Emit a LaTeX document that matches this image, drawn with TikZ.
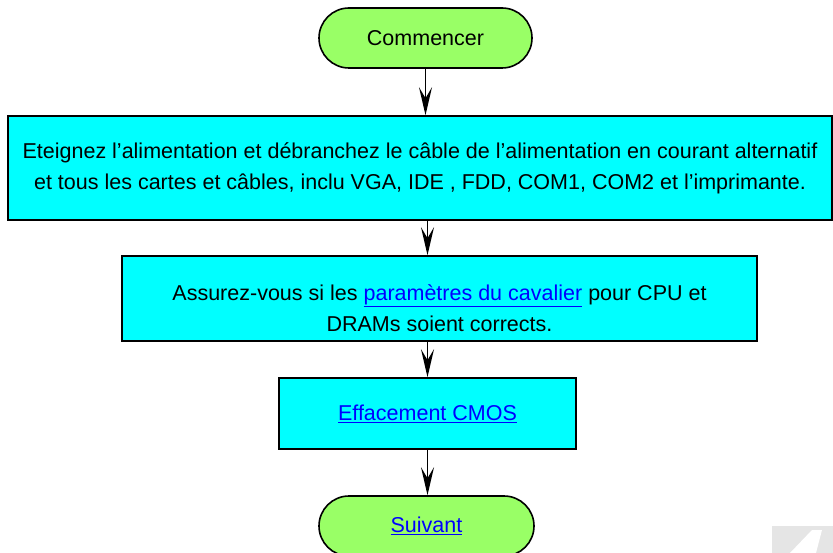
\documentclass[tikz,border=0pt]{standalone}
\usepackage{fontspec}
\setmainfont{Liberation Sans}
\usetikzlibrary{arrows.meta}
\definecolor{boxcyan}{HTML}{00FFFF}
\definecolor{termgreen}{HTML}{99FF66}
\definecolor{linkblue}{HTML}{0000FF}
\newcommand{\lien}[1]{\textcolor{linkblue}{\underline{#1}}}
\tikzset{
  terminal/.style={draw, line width=1.6pt, fill=termgreen, rounded corners=30pt,
    minimum height=60pt, inner sep=0pt},
  stepbox/.style={draw, line width=1.6pt, fill=boxcyan, inner sep=0pt, align=center},
  steptext/.style={inner sep=0pt, align=center},
  flow/.style={-{Stealth[length=28pt,width=13pt,inset=11pt]}, line width=1.8pt}
}
\begin{document}
\begin{tikzpicture}[x=1pt,y=-1pt,every node/.style={font=\fontsize{21.5}{31}\selectfont}]
  \useasboundingbox (0,0) rectangle (833,553);

  % terminals and steps
  \node[terminal, minimum width=213pt] (start) at (425.5,38) {Commencer};
  \node[stepbox, minimum width=824pt, minimum height=104pt] (power) at (420,168)
    {Eteignez l’alimentation et débranchez le câble de l’alimentation en courant alternatif\\
     et tous les cartes et câbles, inclu VGA, IDE , FDD, COM1, COM2 et l’imprimante.};
  \node[stepbox, minimum width=635pt, minimum height=85pt] (jumper) at (439.5,298.5) {};
  \node[steptext] (jumpertext) at (439.5,308)
    {Assurez-vous si les \lien{paramètres du cavalier} pour CPU et\\
     DRAMs soient corrects.};
  \node[stepbox, minimum width=297pt, minimum height=71pt] (cmos) at (427.5,413.5)
    {\lien{Effacement CMOS}};
  \node[terminal, minimum width=215pt] (next) at (426.5,526) {\lien{Suivant}};

  % connectors
  \draw[flow] (start) -- (start |- power.north);
  \draw[flow] (power.south -| cmos) -- (cmos |- jumper.north);
  \draw[flow] (jumper.south -| cmos) -- (cmos.north);
  \draw[flow] (cmos) -- (cmos |- next.north);

  % logo corner
  \fill[black!10] (772,526) rectangle (833,553);
  \fill[white] (790,553) -- (812,530) -- (822,530) -- (816,553) -- cycle;
\end{tikzpicture}
\end{document}
